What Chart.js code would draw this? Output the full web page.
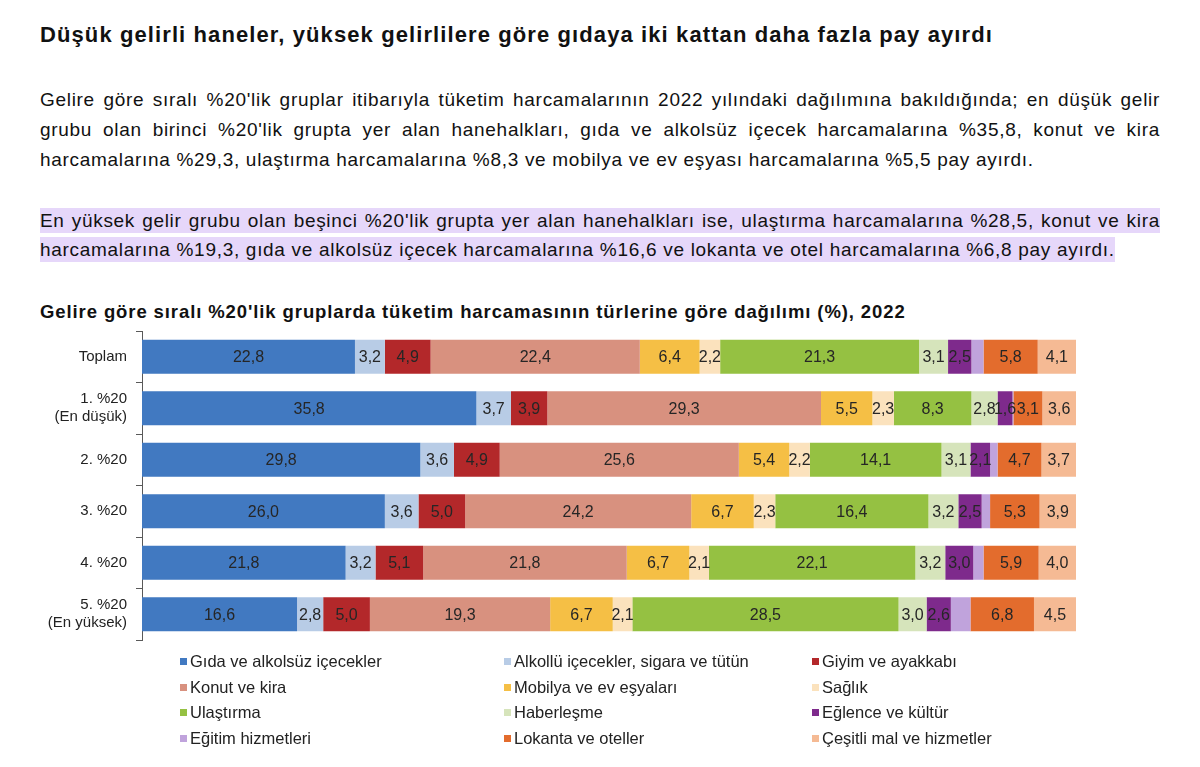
<!DOCTYPE html>
<html lang="tr">
<head>
<meta charset="utf-8">
<script src="https://cdn.jsdelivr.net/npm/chart.js@4.4.1/dist/chart.umd.min.js"></script>
<style>
  html, body { margin: 0; padding: 0; background: #fff; }
  body { width: 1200px; height: 767px; position: relative; overflow: hidden; font-family: "Liberation Sans", Arial, sans-serif; color: #111; }
  .title { position: absolute; left: 40px; top: 22px; font-size: 22px; letter-spacing: 1.1px; font-weight: bold; line-height: 26px; white-space: nowrap; }
  .line { position: absolute; left: 40px; width: 1120px; font-size: 19px; letter-spacing: 0.7px; line-height: 30px; height: 30px; white-space: nowrap; text-align: justify; text-align-last: justify; }
  .line.last { text-align-last: left; }
  .hl { background: #e6d7fa; padding: 2px 0; }
  .chart-title { position: absolute; left: 40px; top: 300px; font-size: 18.5px; letter-spacing: 0.9px; font-weight: bold; line-height: 24px; white-space: nowrap; }
  #wrap { position: absolute; left: 0; top: 321px; width: 1090px; height: 329px; }
  #legend { position: absolute; left: 0; top: 648px; width: 1200px; height: 110px; }
  .item { position: absolute; font-size: 16.5px; line-height: 20px; color: #222; white-space: nowrap; }
  .item i { display: inline-block; width: 7px; height: 7px; margin-right: 3px; vertical-align: 2px; }
</style>
</head>
<body>
<div class="title">Düşük gelirli haneler, yüksek gelirlilere göre gıdaya iki kattan daha fazla pay ayırdı</div>

<div class="line" style="top:85px">Gelire göre sıralı %20'lik gruplar itibarıyla tüketim harcamalarının 2022 yılındaki dağılımına bakıldığında; en düşük gelir</div>
<div class="line" style="top:115px">grubu olan birinci %20'lik grupta yer alan hanehalkları, gıda ve alkolsüz içecek harcamalarına %35,8, konut ve kira</div>
<div class="line last" style="top:145px">harcamalarına %29,3, ulaştırma harcamalarına %8,3 ve mobilya ve ev eşyası harcamalarına %5,5 pay ayırdı.</div>

<div class="line" style="top:206px"><span class="hl">En yüksek gelir grubu olan beşinci %20'lik grupta yer alan hanehalkları ise, ulaştırma harcamalarına %28,5, konut ve kira</span></div>
<div class="line last" style="top:235px"><span class="hl">harcamalarına %19,3, gıda ve alkolsüz içecek harcamalarına %16,6 ve lokanta ve otel harcamalarına %6,8 pay ayırdı.</span></div>

<div class="chart-title">Gelire göre sıralı %20'lik gruplarda tüketim harcamasının türlerine göre dağılımı (%), 2022</div>

<div id="wrap"><canvas id="chart"></canvas></div>
<div id="legend"></div>

<script>
// gelir grupları (y ekseni)
const groups = ['Toplam', ['1. %20', '(En düşük)'], '2. %20', '3. %20', '4. %20', ['5. %20', '(En yüksek)']];

const seriesNames = [
    'Gıda ve alkolsüz içecekler', 'Alkollü içecekler, sigara ve tütün', 'Giyim ve ayakkabı',
    'Konut ve kira', 'Mobilya ve ev eşyaları', 'Sağlık',
    'Ulaştırma', 'Haberleşme', 'Eğlence ve kültür',
    'Eğitim hizmetleri', 'Lokanta ve oteller', 'Çeşitli mal ve hizmetler'
];

// pay (%) - Toplam, 1. .. 5. %20
const gida       = [22.8, 35.8, 29.8, 26.0, 21.8, 16.6];
const alkollu    = [3.2, 3.7, 3.6, 3.6, 3.2, 2.8];
const giyim      = [4.9, 3.9, 4.9, 5.0, 5.1, 5.0];
const konut      = [22.4, 29.3, 25.6, 24.2, 21.8, 19.3];
const mobilya    = [6.4, 5.5, 5.4, 6.7, 6.7, 6.7];
const saglik     = [2.2, 2.3, 2.2, 2.3, 2.1, 2.1];
const ulastirma  = [21.3, 8.3, 14.1, 16.4, 22.1, 28.5];
const haberlesme = [3.1, 2.8, 3.1, 3.2, 3.2, 3.0];
const eglence    = [2.5, 1.6, 2.1, 2.5, 3.0, 2.6];
const egitim     = [1.3, 0.1, 0.8, 0.9, 1.1, 2.1]; // etiketsiz, okunan genişlikten
const lokanta    = [5.8, 3.1, 4.7, 5.3, 5.9, 6.8];
const cesitli    = [4.1, 3.6, 3.7, 3.9, 4.0, 4.5];

const seriesValues = [gida, alkollu, giyim, konut, mobilya, saglik, ulastirma, haberlesme, eglence, egitim, lokanta, cesitli];

const colors = [
    '#4179c1', '#b8cce6', '#b3282a',
    '#d8917f', '#f5bf45', '#fbe2bd',
    '#95c142', '#d6e4bb', '#7e2a8c',
    '#c0a3dc', '#e36c2d', '#f5ba94'
];

// values are not printed on the education slice
const unlabeled = ['Eğitim hizmetleri'];

const valueLabels = {
    id: 'valueLabels',
    afterDatasetsDraw(chart) {
        const ctx = chart.ctx;
        ctx.save();
        ctx.font = '16px "Liberation Sans", Arial, sans-serif';
        ctx.fillStyle = '#262626';
        ctx.textAlign = 'center';
        ctx.textBaseline = 'middle';
        chart.data.datasets.forEach((ds, i) => {
            if (unlabeled.includes(ds.label)) return;
            chart.getDatasetMeta(i).data.forEach((bar, j) => {
                const txt = ds.data[j].toFixed(1).replace('.', ',');
                ctx.fillText(txt, (bar.base + bar.x) / 2, bar.y + 1);
            });
        });
        ctx.restore();
    }
};

new Chart(document.getElementById('chart'), {
    type: 'bar',
    data: {
        labels: groups,
        datasets: seriesNames.map((name, i) => ({
            label: name,
            data: seriesValues[i],
            backgroundColor: colors[i],
            borderWidth: 0,
            barPercentage: 0.66,
            categoryPercentage: 1
        }))
    },
    options: {
        indexAxis: 'y',
        responsive: true,
        maintainAspectRatio: false,
        animation: false,
        layout: { padding: { top: 10, bottom: 10, left: 0, right: 14 } },
        plugins: {
            legend: { display: false },
            tooltip: { enabled: false }
        },
        scales: {
            x: { stacked: true, min: 0, max: 100, display: false },
            y: {
                stacked: true,
                afterFit: scale => {
                    scale.width = 142;
                    scale.paddingTop = 0;
                    scale.paddingBottom = 0;
                },
                grid: { drawOnChartArea: false, drawTicks: true, tickLength: 6, color: '#595959', offset: true },
                border: { display: true, color: '#595959', width: 1 },
                ticks: { color: '#222', padding: 9, font: { family: '"Liberation Sans", Arial, sans-serif', size: 15 } }
            }
        }
    },
    plugins: [valueLabels]
});

// 3 sütunlu lejant
const legend = document.getElementById('legend');
const colX = [180, 504, 812];
seriesNames.forEach((name, i) => {
    const el = document.createElement('div');
    el.className = 'item';
    el.style.left = colX[i % 3] + 'px';
    el.style.top = (3 + Math.floor(i / 3) * 25.5) + 'px';
    el.innerHTML = '<i style="background:' + colors[i] + '"></i>' + name;
    legend.appendChild(el);
});
</script>
</body>
</html>
